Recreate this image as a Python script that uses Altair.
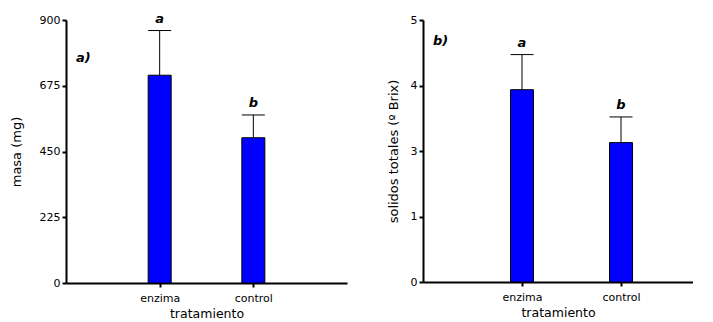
import altair as alt
import pandas as pd

categorias = ["enzima", "control"]
posiciones = [1, 2]
masa = [711, 497]
masa_err = [153, 78]
letras_masa = ["a", "b"]
solidos = [3.67, 2.66]
solidos_err = [0.67, 0.49]
letras_solidos = ["a", "b"]
ticks_masa = [0, 225, 450, 675, 900]
ticks_solidos = [0, 1.25, 2.5, 3.75, 5]

FONT = "DejaVu Sans"

def panel(vals, errs, letras, ymax, ticks, ytitle, tag, width, height, tpad, tag_y, xmax):
    df = pd.DataFrame({
        "cat": categorias, "pos": posiciones, "val": vals,
        "top": [v + e for v, e in zip(vals, errs)], "letra": letras,
    })
    half = 11.5 * xmax / width
    df["x0"] = df["pos"] - half
    df["x1"] = df["pos"] + half
    xs = alt.Scale(domain=[0, xmax], nice=False, zero=False)
    ys = alt.Scale(domain=[0, ymax], nice=False)
    xaxis = alt.Axis(values=posiciones, title="tratamiento",
                     labelExpr="datum.value == 1 ? 'enzima' : 'control'",
                     grid=False, tickSize=4, tickWidth=2, domainWidth=2, domainColor="black",
                     tickColor="black", labelFont=FONT, labelFontSize=11, labelColor="black",
                     titleFont=FONT, titleFontSize=12.5, titleFontWeight="normal", titleColor="black",
                     labelPadding=5, titlePadding=4)
    yaxis = alt.Axis(values=ticks, format=".0f", title=ytitle, grid=False, tickSize=4, tickWidth=2,
                     domainWidth=2, domainColor="black", tickColor="black",
                     labelFont=FONT, labelFontSize=11, labelColor="black",
                     titleFont=FONT, titleFontSize=13, titleFontWeight="normal", titleColor="black",
                     labelPadding=2, titlePadding=tpad)
    base = alt.Chart(df)
    bars = base.mark_rect(color="#0000FF", stroke="black", strokeWidth=1).encode(
        x=alt.X("x0:Q", scale=xs, axis=xaxis), x2="x1:Q",
        y=alt.Y("val:Q", scale=ys, axis=yaxis), y2=alt.datum(0))
    stem = base.mark_rule(color="black", strokeWidth=1).encode(
        x=alt.X("pos:Q", scale=xs), y=alt.Y("val:Q", scale=ys), y2="top:Q")
    cap = base.mark_rule(color="black", strokeWidth=1).encode(
        x=alt.X("x0:Q", scale=xs), x2="x1:Q", y=alt.Y("top:Q", scale=ys))
    txt = base.mark_text(font=FONT, fontSize=13, fontWeight="bold", fontStyle="italic",
                         baseline="bottom", dy=-5).encode(
        x=alt.X("pos:Q", scale=xs), y=alt.Y("top:Q", scale=ys), text="letra:N")
    tagc = alt.Chart(pd.DataFrame({"t": [tag]})).mark_text(
        font=FONT, fontSize=13, fontWeight="bold", fontStyle="italic", align="left").encode(
        x=alt.value(10), y=alt.value(tag_y), text="t:N")
    return alt.layer(bars, stem, cap, txt, tagc).properties(width=width, height=height)

left = panel(masa, masa_err, letras_masa, 900, ticks_masa, "masa (mg)", "a)", 281, 263, 16, 38, 3)
right = panel(solidos, solidos_err, letras_solidos, 5, ticks_solidos,
              "solidos totales (º Brix)", "b)", 270, 262, 10, 21, 270 / 99)

chart = alt.hconcat(left, right, spacing=40).properties(
    padding={"left": 2, "top": 4, "right": 0, "bottom": 0}).configure_view(stroke=None)
chart.save("out.html", embed_options={"renderer": "svg", "actions": False})
